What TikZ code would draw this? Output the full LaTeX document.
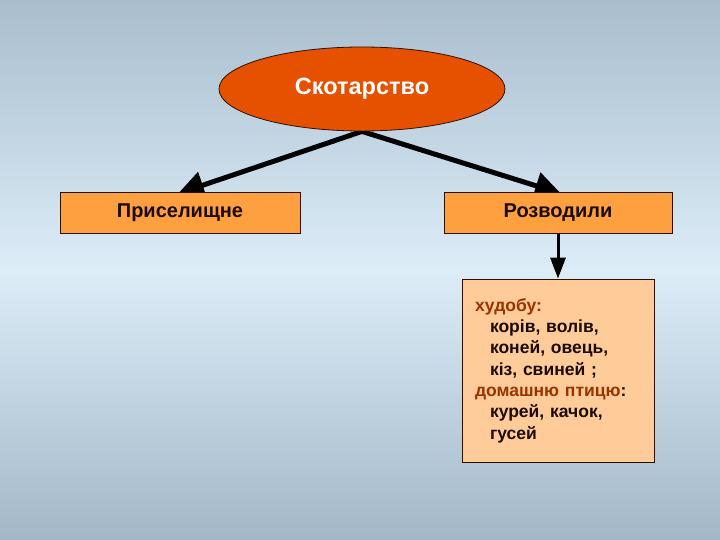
\documentclass[tikz,border=0pt]{standalone}
\usepackage{fontspec}
\setmainfont{Liberation Sans}
\usetikzlibrary{shapes.geometric,arrows.meta}
\definecolor{bgtop}{HTML}{A9BDCD}
\definecolor{bgmid}{HTML}{DCEDF8}
\definecolor{bgbot}{HTML}{A3B7C7}
\definecolor{ellfill}{HTML}{E65100}
\definecolor{boxfill}{HTML}{FFA040}
\definecolor{lightbox}{HTML}{FFCC99}
\definecolor{brown}{HTML}{993300}
\definecolor{txtdark}{HTML}{1A0A00}
\pgfdeclarelayer{bglayer}
\pgfdeclarelayer{arrowlayer}
\pgfsetlayers{bglayer,arrowlayer,main}
\tikzset{
  hbox/.style={draw=black!70!brown, line width=0.8pt, fill=boxfill, minimum height=41pt, inner sep=0pt, font=\fontsize{20}{23}\selectfont\bfseries, text=txtdark},
  bigarrow/.style={line width=5pt, -{Triangle[length=26pt,width=27pt]}},
  smallarrow/.style={line width=3pt, -{Triangle[length=21pt,width=15pt]}}
}
\begin{document}
\begin{tikzpicture}[x=1pt,y=-1pt]
\useasboundingbox (0,0) rectangle (720,540);
\begin{pgfonlayer}{bglayer}
\shade[top color=bgtop, bottom color=bgmid] (0,0) rectangle (720,270);
\shade[top color=bgmid, bottom color=bgbot] (0,270) rectangle (720,540);
\end{pgfonlayer}
\node[ellipse, draw=black!70!brown, line width=0.8pt, fill=ellfill, minimum width=286pt, minimum height=84pt, inner sep=0pt, text=white, font=\fontsize{23.5}{27}\selectfont\bfseries] (sk) at (362,89) {Скотарство};
\node[hbox, minimum width=240pt] (pr) at (180,212.5) {Приселищне};
\node[hbox, minimum width=228pt] (roz) at (558,212.5) {Розводили};
\node[draw=black!70!brown, line width=0.8pt, fill=lightbox, minimum width=192pt, minimum height=183pt, text width=166pt, align=left, inner sep=0pt, font=\fontsize{17.5}{21.3}\selectfont\bfseries, text=txtdark] (list) at (558,370.5)
{\textcolor{brown}{худобу:}\\
\hspace*{15pt}корів, волів,\\
\hspace*{15pt}коней, овець,\\
\hspace*{15pt}кіз, свиней ;\\
\textcolor{brown}{домашню птицю}:\\
\hspace*{15pt}курей, качок,\\
\hspace*{15pt}гусей};
\begin{pgfonlayer}{arrowlayer}
\draw[bigarrow] (sk.south) -- ([xshift=-2pt,yshift=-2pt]pr.north);
\draw[bigarrow] (sk.south) -- ([xshift=3pt,yshift=-2pt]roz.north);
\draw[smallarrow] (roz.south) -- (list.north);
\end{pgfonlayer}
\end{tikzpicture}
\end{document}
